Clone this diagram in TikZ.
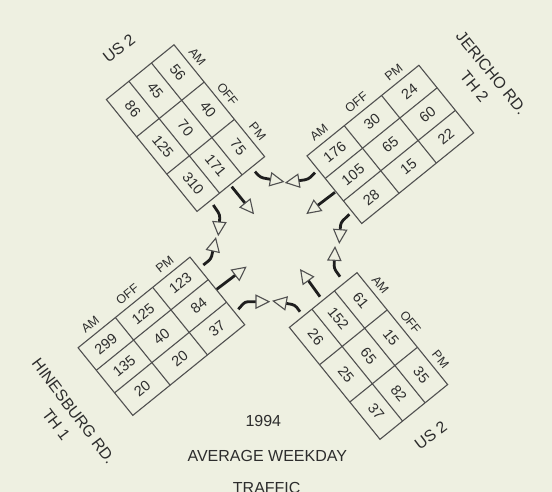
\documentclass[tikz,border=0pt]{standalone}
\usepackage{fontspec}
\setmainfont{Liberation Sans}
\usetikzlibrary{calc}
\definecolor{bg}{RGB}{238,240,225}
\definecolor{ink}{RGB}{45,45,45}
\definecolor{gridc}{RGB}{80,80,80}
\definecolor{shaftc}{RGB}{30,30,30}

\newcommand{\countbox}[4]{%
  \begin{scope}[shift={#2}, rotate=#3, transform shape]
    \draw[cellgrid] (-72,-43.5) rectangle (72,43.5);
    \draw[cellgrid] (-24,-43.5) -- (-24,43.5) (24,-43.5) -- (24,43.5)
                    (-72,-14.5) -- (72,-14.5) (-72,14.5) -- (72,14.5);
    \node[lbl] (#1-am)  at (-48,54) {AM};
    \node[lbl] (#1-off) at (0,54)   {OFF};
    \node[lbl] (#1-pm)  at (48,54)  {PM};
    \foreach \v [count=\k from 0] in {#4} {
      \pgfmathtruncatemacro{\bxc}{\k/3}
      \pgfmathtruncatemacro{\bxr}{mod(\k,3)}
      \node[num] (#1-\k) at ({-48+48*\bxc},{29-29*\bxr}) {\v};
    }
  \end{scope}}

\newcommand{\bentarrow}[4]{%
  \path ($(#4)!13pt!(#3)$) coordinate (#1b);
  \draw[shaft] (#2) -- (#3) -- (#1b);
  \draw[head] (#4) -- ($(#1b)!6.5pt!90:(#4)$) -- ($(#1b)!6.5pt!-90:(#4)$) -- cycle;}

\newcommand{\straightarrow}[3]{%
  \path ($(#3)!13pt!(#2)$) coordinate (#1b);
  \draw[shaft] (#2) -- (#1b);
  \draw[head] (#3) -- ($(#1b)!6.5pt!90:(#3)$) -- ($(#1b)!6.5pt!-90:(#3)$) -- cycle;}

\begin{document}
\begin{tikzpicture}[x=1pt,y=1pt,
  cellgrid/.style={draw=gridc, line width=1.1pt},
  num/.style={text=ink, font=\fontsize{14.5}{14.5}\selectfont, inner sep=0pt},
  lbl/.style={text=ink, font=\fontsize{12.5}{12.5}\selectfont, inner sep=0pt},
  road/.style={text=ink, font=\fontsize{16}{22}\selectfont, inner sep=0pt},
  shaft/.style={draw=shaftc, line width=2.8pt, rounded corners=3pt},
  head/.style={draw=gridc, line width=1.1pt, fill=bg, line join=miter}]
\fill[bg] (0,0) rectangle (552,492);
\useasboundingbox (0,0) rectangle (552,492);

% count boxes
\countbox{tl}{(185.5,363.9)}{-51}{56,45,86,40,70,125,75,171,310}
\countbox{tr}{(390.3,347.6)}{39}{176,105,28,30,65,15,24,60,22}
\countbox{bl}{(161.4,155.75)}{39}{299,135,20,125,40,20,123,84,37}
\countbox{br}{(368.5,136)}{-51}{61,152,26,15,65,25,35,82,37}

% road names and title
\node[road, rotate=38]  (us2n) at (119,443.7) {US 2};
\node[road, rotate=-51, align=center] (jer) at (483,412) {JERICHO RD.\\TH 2\hspace{18pt}};
\node[road, rotate=-53, align=center] (hin) at (65,74) {HINESBURG RD.\\TH 1\hspace{20pt}};
\node[road, rotate=37]  (us2s) at (430.7,56.3) {US 2};
\node[road] (yr)  at (263.3,71.3) {1994};
\node[road] (avg) at (267.3,36.3) {AVERAGE WEEKDAY};
\node[road] (trf) at (266.7,4.2) {TRAFFIC};

% movement arrows
\coordinate (a1s) at (255,320.3);   \coordinate (a1m) at (260.5,314.5); \coordinate (a1t) at (283.3,310.3);
\coordinate (a2s) at (231.7,305.3); \coordinate (a2t) at (253.3,278.7);
\coordinate (a3s) at (213.3,287);   \coordinate (a3m) at (220,277);     \coordinate (a3t) at (218.3,257);
\coordinate (b1s) at (315,319.3);   \coordinate (b1m) at (308.3,312.7); \coordinate (b1t) at (286,309.3);
\coordinate (b2s) at (335,299.7);   \coordinate (b2t) at (307.3,278.7);
\coordinate (b3s) at (349.3,277.7); \coordinate (b3m) at (340.7,269.3); \coordinate (b3t) at (339.3,249.3);
\coordinate (c1s) at (203.3,227);   \coordinate (c1m) at (211,233);     \coordinate (c1t) at (215.7,253.7);
\coordinate (c2s) at (216.7,202.7); \coordinate (c2t) at (245.7,224.7);
\coordinate (c3s) at (238.3,182.7); \coordinate (c3m) at (245,190.3);   \coordinate (c3t) at (269,190.3);
\coordinate (d1s) at (300,180.3);   \coordinate (d1m) at (295,187);     \coordinate (d1t) at (273.3,191);
\coordinate (d2s) at (320,195.3);   \coordinate (d2t) at (300.7,222);
\coordinate (d3s) at (340,215.3);   \coordinate (d3m) at (334,223.7);   \coordinate (d3t) at (335,244.7);

\bentarrow{a1}{a1s}{a1m}{a1t}
\straightarrow{a2}{a2s}{a2t}
\bentarrow{a3}{a3s}{a3m}{a3t}
\bentarrow{b1}{b1s}{b1m}{b1t}
\straightarrow{b2}{b2s}{b2t}
\bentarrow{b3}{b3s}{b3m}{b3t}
\bentarrow{c1}{c1s}{c1m}{c1t}
\straightarrow{c2}{c2s}{c2t}
\bentarrow{c3}{c3s}{c3m}{c3t}
\bentarrow{d1}{d1s}{d1m}{d1t}
\straightarrow{d2}{d2s}{d2t}
\bentarrow{d3}{d3s}{d3m}{d3t}
\end{tikzpicture}
\end{document}
